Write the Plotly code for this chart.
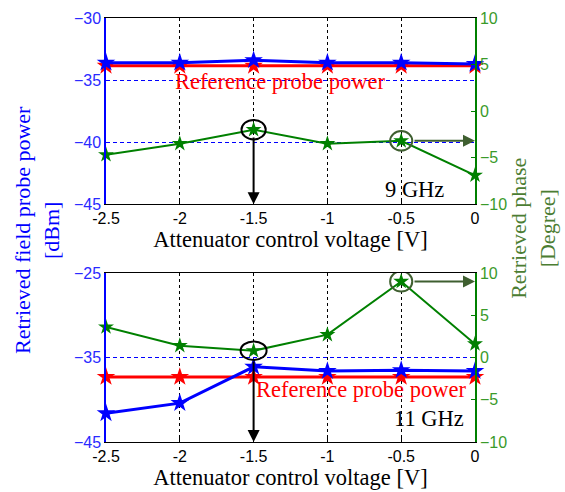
import plotly.graph_objects as go

# ---- data ----
voltage = [-2.5, -2.0, -1.5, -1.0, -0.5, 0.0]
x_ticks = [-2.5, -2, -1.5, -1, -0.5, 0]
x_ticklabels = ["-2.5", "-2", "-1.5", "-1", "-0.5", "0"]

# 9 GHz
p9_field = [-33.6, -33.6, -33.4, -33.6, -33.6, -33.7]
p9_ref = [-33.85, -33.85, -33.85, -33.85, -33.85, -33.85]
ph9 = [-4.7, -3.5, -2.0, -3.5, -3.2, -6.9]

# 11 GHz
p11_field = [-41.6, -40.4, -36.1, -36.6, -36.5, -36.6]
p11_ref = [-37.3, -37.3, -37.3, -37.3, -37.3, -37.3]
ph11 = [3.6, 1.4, 0.8, 2.7, 9.0, 1.6]

top_left_ticks = [-30, -35, -40, -45]
bot_left_ticks = [-25, -35, -45]
right_ticks = [10, 5, 0, -5, -10]

BLUE = "#0000ff"
RED = "#ff0000"
GREEN = "#008000"
OLIVE = "#3f5f30"
TICKGREEN = "#3a9a2a"
SERIF = "Liberation Serif, Times New Roman, serif"
SANS = "Liberation Sans, Arial, sans-serif"

fig = go.Figure()

def add_panel(xa, ya, ya2, field, ref, ph):
    fig.add_trace(go.Scatter(x=voltage, y=ref, xaxis=xa, yaxis=ya, mode="lines+markers",
                             line=dict(color=RED, width=3), cliponaxis=False,
                             marker=dict(symbol="star", size=14, color=RED), showlegend=False))
    fig.add_trace(go.Scatter(x=voltage, y=field, xaxis=xa, yaxis=ya, mode="lines+markers",
                             line=dict(color=BLUE, width=3), cliponaxis=False,
                             marker=dict(symbol="star", size=14, color=BLUE), showlegend=False))
    fig.add_trace(go.Scatter(x=voltage, y=ph, xaxis=xa, yaxis=ya2, mode="lines+markers",
                             line=dict(color=GREEN, width=2), cliponaxis=False,
                             marker=dict(symbol="star", size=12, color=GREEN), showlegend=False))

add_panel("x", "y", "y2", p9_field, p9_ref, ph9)
add_panel("x2", "y3", "y4", p11_field, p11_ref, ph11)

xcommon = dict(range=[-2.5, 0], tickvals=x_ticks, ticktext=x_ticklabels,
               showgrid=True, gridcolor="black", griddash="3px,3px", gridwidth=1,
               showline=True, linecolor="black", linewidth=1, mirror=True,
               ticks="inside", ticklen=4, tickcolor="black", zeroline=False,
               tickfont=dict(family=SANS, size=16, color="black"),
               title=dict(text="Attenuator control voltage [V]",
                          font=dict(family=SERIF, size=22.5, color="black"), standoff=2))

ycommon_left = dict(showgrid=True, gridcolor=BLUE, griddash="4px,3px", gridwidth=1,
                    showline=True, linecolor=BLUE, linewidth=1.5, zeroline=False,
                    ticks="inside", ticklen=4, tickcolor=BLUE,
                    tickfont=dict(family=SANS, size=16, color="#2a2aff"))
ycommon_right = dict(range=[-10, 10], tickvals=right_ticks, showgrid=False,
                     showline=True, linecolor=GREEN, linewidth=1.5, zeroline=False,
                     ticks="inside", ticklen=4, tickcolor=GREEN, side="right",
                     tickfont=dict(family=SANS, size=16, color=TICKGREEN))

top_dom = [0.561, 1.0]
bot_dom = [0.0, 0.3986]

fig.update_layout(
    template="none",
    width=565, height=492,
    margin=dict(l=106, r=90, t=18, b=50),
    plot_bgcolor="white", paper_bgcolor="white",
    xaxis=dict(domain=[0, 1], anchor="y", **xcommon),
    yaxis=dict(domain=top_dom, anchor="x", range=[-45, -30], tickvals=top_left_ticks, **ycommon_left),
    yaxis2=dict(overlaying="y", anchor="x", **ycommon_right),
    xaxis2=dict(domain=[0, 1], anchor="y3", **xcommon),
    yaxis3=dict(domain=bot_dom, anchor="x2", range=[-45, -25], tickvals=bot_left_ticks, **ycommon_left),
    yaxis4=dict(overlaying="y3", anchor="x2", **ycommon_right),
)

# ellipses
def ellipse(xref, yref, cx, cy, rx, ry, color):
    fig.add_shape(type="circle", xref=xref, yref=yref, x0=cx - rx, x1=cx + rx,
                  y0=cy - ry, y1=cy + ry, line=dict(color=color, width=2))

ellipse("x", "y2", voltage[2], ph9[2], 0.082, 1.05, "black")
ellipse("x", "y2", voltage[4], ph9[4], 0.075, 1.05, OLIVE)
ellipse("x2", "y4", voltage[2], ph11[2], 0.088, 1.1, "black")
ellipse("x2", "y4", voltage[4], ph11[4], 0.075, 1.2, OLIVE)

# arrows
def arrow(xref, yref, x, y, ax, ay, color):
    fig.add_annotation(xref=xref, yref=yref, x=x, y=y, axref=xref, ayref=yref, ax=ax, ay=ay,
                       showarrow=True, arrowhead=2, arrowsize=1.2, arrowwidth=2,
                       arrowcolor=color, text="")

arrow("x", "y", -1.5, -45, -1.5, -39.5, "black")
arrow("x", "y2", 0.0, ph9[4], -0.42, ph9[4], OLIVE)
arrow("x2", "y3", -1.5, -45, -1.5, -35.3, "black")
arrow("x2", "y4", 0.0, ph11[4], -0.42, ph11[4], OLIVE)

# texts
def text(xref, yref, x, y, s, color, size=22.5):
    fig.add_annotation(xref=xref, yref=yref, x=x, y=y, text=s, showarrow=False,
                       font=dict(family=SERIF, size=size, color=color))

text("x", "y", -1.32, -35.15, "Reference probe power", RED)
text("x", "y", -0.41, -43.8, "9 GHz", "black")
text("x2", "y3", -0.77, -38.8, "Reference probe power", RED)
text("x2", "y3", -0.31, -42.2, "11 GHz", "black")

# y-axis titles
fig.add_annotation(xref="paper", yref="paper", x=-0.187, y=0.5, textangle=-90,
                   text="Retrieved field probe power<br>[dBm]", showarrow=False,
                   font=dict(family=SERIF, size=22, color=BLUE), xanchor="center", yanchor="middle")
fig.add_annotation(xref="paper", yref="paper", x=1.157, y=0.505, textangle=-90,
                   text="Retrieved phase<br>[Degree]", showarrow=False,
                   font=dict(family=SERIF, size=22, color="#4b7d32"), xanchor="center", yanchor="middle")

fig.write_html("out.html", config={"displayModeBar": False},
               post_script="document.body.style.margin='0';document.body.style.overflow='hidden';")
